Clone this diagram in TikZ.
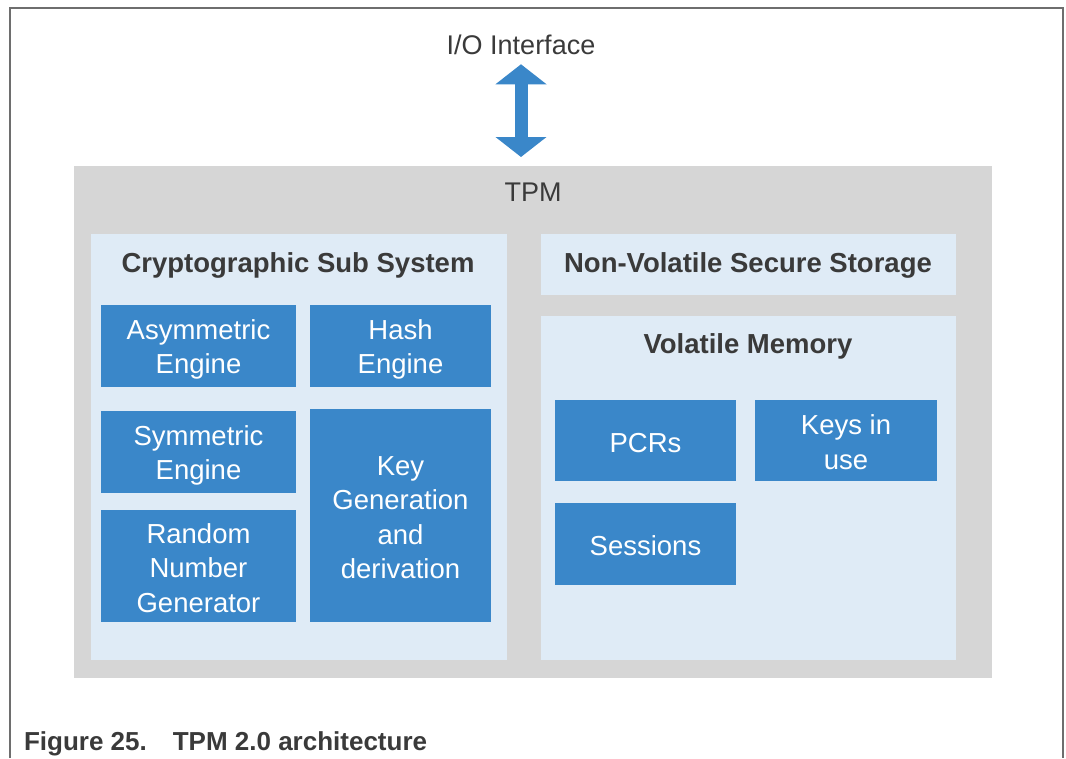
\documentclass[tikz,border=0pt]{standalone}
\usepackage{fontspec}
\setmainfont{Liberation Sans}
\usetikzlibrary{arrows.meta,calc}
\definecolor{tpmblue}{HTML}{3A87C9}
\definecolor{tpmlight}{HTML}{DFEBF6}
\definecolor{tpmgray}{HTML}{D6D6D6}
\definecolor{tpmtext}{HTML}{3A3A3A}
\definecolor{framegray}{HTML}{6E6E6E}
\newcommand\es{\rule[-4pt]{0pt}{31pt}}
\begin{document}
\begin{tikzpicture}[x=1pt,y=-1pt,
  every node/.style={inner sep=0pt, outer sep=0pt},
  region/.style={fill=#1, anchor=north west},
  eng/.style={fill=tpmblue, text=white, align=center, anchor=north west,
    font=\fontsize{27.5}{34.5}\selectfont},
  head/.style={text=tpmtext, anchor=base, font=\fontsize{27.5}{33}\selectfont\bfseries},
  plainlabel/.style={text=tpmtext, anchor=base, font=\fontsize{27}{32}\selectfont},
  bigarrow/.style={tpmblue, line width=13pt,
    {Triangle[width=50pt,length=20pt]}-{Triangle[width=50pt,length=20pt]}},
  ]
\useasboundingbox (0,0) rectangle (1066,758);
\fill[white] (0,0) rectangle (1066,758);
\draw[framegray, line width=1.2pt] (10,758) -- (10,8) -- (1063,8) -- (1063,758);

% outer TPM box
\node[region=tpmgray, minimum width=918, minimum height=512] (tpm) at (74,166) {};
\node[plainlabel] (tpmlabel) at (533,201) {TPM};

% I/O interface and arrow
\node[plainlabel] (io) at (521,54) {I/O Interface};
\draw[bigarrow, shorten <=10pt, shorten >=9pt] (io.south) -- (io.south |- tpm.north);

% cryptographic subsystem
\node[region=tpmlight, minimum width=416, minimum height=426] (crypto) at (91,234) {};
\node[head] (cryptolabel) at (298,272) {Cryptographic Sub System};
\node[eng, minimum width=195, minimum height=82] (asym) at (101,305) {\es Asymmetric\\\es Engine};
\node[eng, minimum width=181, minimum height=82] (hash) at (310,305) {\es Hash\\\es Engine};
\node[eng, minimum width=195, minimum height=82] (sym) at (101,411) {\es Symmetric\\\es Engine};
\node[eng, minimum width=195, minimum height=112] (rng) at (101,510) {\es Random\\\es Number\\\es Generator};
\node[eng, minimum width=181, minimum height=213] (keygen) at (310,409) {\es Key\\\es Generation\\\es and\\\es derivation};

% non-volatile storage
\node[region=tpmlight, minimum width=415, minimum height=61] (nvss) at (541,234) {};
\node[head] (nvsslabel) at (748,272) {Non-Volatile Secure Storage};

% volatile memory
\node[region=tpmlight, minimum width=415, minimum height=344] (vm) at (541,316) {};
\node[head] (vmlabel) at (748,353) {Volatile Memory};
\node[eng, minimum width=181, minimum height=81] (pcrs) at (555,400) {\es PCRs};
\node[eng, minimum width=182, minimum height=81] (keys) at (755,400) {\es Keys in\\\es use};
\node[eng, minimum width=181, minimum height=82] (sess) at (555,503) {\es Sessions};

% caption
\node[anchor=base west, text=tpmtext, font=\fontsize{26}{30}\selectfont\bfseries] (cap) at (24,750) {Figure 25.\hspace{26pt}TPM 2.0 architecture};
\end{tikzpicture}
\end{document}
